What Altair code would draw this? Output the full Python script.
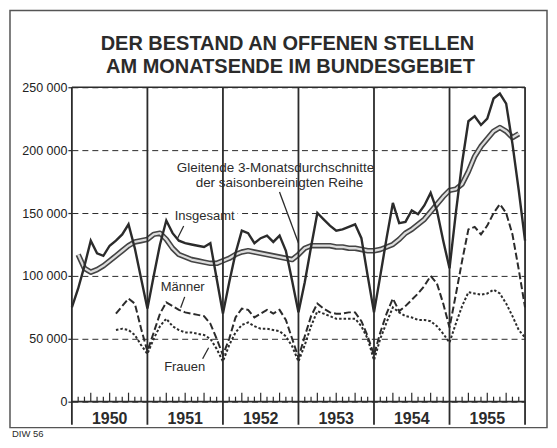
import altair as alt
import pandas as pd

# ---------------- data (month-end values) ----------------
# Insgesamt: Dec 1949 .. Dec 1955
insgesamt = [75000,
    90000, 108000, 128000, 118000, 116000, 124000, 128000, 133000, 141000, 122000, 98000, 74000,
    100000, 125000, 144000, 134000, 128000, 126000, 125000, 124000, 123000, 126000, 98000, 70000,
    95000, 118000, 136000, 134000, 126000, 130000, 132000, 127000, 132000, 120000, 96000, 71000,
    95000, 123000, 150000, 145000, 140000, 136000, 137000, 139000, 141000, 130000, 100000, 71000,
    100000, 130000, 158000, 142000, 143000, 152000, 149000, 156000, 166000, 152000, 128000, 106000,
    150000, 190000, 223000, 227000, 220000, 225000, 241000, 245000, 237000, 205000, 168000, 128000]

# Männer / Frauen: Jul 1950 .. Dec 1955
maenner = [70000, 76000, 82000, 78000, 58000, 40000,
    55000, 70000, 79000, 76000, 73000, 71000, 70000, 69000, 68000, 62000, 50000, 37000,
    50000, 67000, 74000, 73000, 67000, 70000, 73000, 70000, 73000, 65000, 50000, 35000,
    52000, 68000, 78000, 74000, 71000, 70000, 70000, 71000, 71000, 64000, 52000, 37000,
    55000, 70000, 82000, 72000, 76000, 81000, 86000, 92000, 100000, 94000, 78000, 59000,
    85000, 112000, 137000, 139000, 133000, 140000, 150000, 157000, 150000, 133000, 105000, 75000]

frauen = [57000, 58000, 57000, 53000, 45000, 38000,
    50000, 60000, 66000, 60000, 57000, 55000, 55000, 54000, 53000, 50000, 42000, 32000,
    45000, 55000, 61000, 63000, 60000, 58000, 58000, 57000, 56000, 52000, 44000, 32000,
    45000, 60000, 72000, 70000, 68000, 66000, 66000, 66000, 66000, 60000, 50000, 33000,
    50000, 63000, 75000, 71000, 68000, 67000, 65000, 65000, 64000, 60000, 54000, 47000,
    62000, 76000, 87000, 86000, 85000, 86000, 89000, 86000, 78000, 68000, 57000, 51000]

# Gleitende 3-Monatsdurchschnitte der saisonbereinigten Reihe: Jan 1950 .. Nov 1955
gleitend = [117000, 106000, 103000, 105000, 108000, 112000, 116000, 120000, 124000, 127000, 128000, 129000,
    133000, 134000, 129000, 122000, 117000, 115000, 113000, 112000, 111000, 110000, 110000, 112000,
    114000, 117000, 119000, 120000, 119000, 118000, 117000, 116000, 115000, 114000, 113000, 117000,
    122000, 124000, 124000, 124000, 124000, 123000, 123000, 122000, 122000, 121000, 120000, 120000,
    121000, 123000, 125000, 129000, 134000, 137000, 141000, 145000, 151000, 157000, 163000, 168000,
    169000, 173000, 183000, 195000, 203000, 209000, 215000, 218000, 215000, 210000, 213000]

years = [1950, 1951, 1952, 1953, 1954, 1955]
y_ticks = [0, 50000, 100000, 150000, 200000, 250000]

title_lines = ["DER BESTAND AN OFFENEN STELLEN", "AM MONATSENDE IM BUNDESGEBIET"]
ma_label = ["Gleitende 3-Monatsdurchschnitte", "der saisonbereinigten Reihe"]

# ---------------- layout ----------------
W, H = 454, 315
OX, OY = 72, 87          # page position of plot origin
INK = "#2b2b2b"
FONT = "Liberation Sans"


def px(x):
    return x - OX


def py(y):
    return y - OY


def series(values, start_month):
    return pd.DataFrame({"t": [1950 + (start_month + i) / 12 for i in range(len(values))],
                         "v": values})


one = pd.DataFrame({"a": [0]})
xs = alt.Scale(domain=[1950, 1956], nice=False, zero=False)
X = alt.X("t:Q", scale=xs, axis=None)
ys = alt.Scale(domain=[0, 250000], nice=False, zero=True)

y_axis = alt.Axis(values=y_ticks,
                  labelExpr="replace(format(datum.value, ','), ',', ' ')",
                  grid=True, gridDash=[6, 4], gridColor=INK, gridWidth=1, gridOpacity=1,
                  domain=False, ticks=True, tickSize=4, tickColor=INK, tickWidth=1.2,
                  labelFont=FONT, labelFontSize=12.5, labelColor="#222", labelPadding=1,
                  title=None)
Y = alt.Y("v:Q", scale=ys, axis=y_axis)

layers = []

# outer frame
layers.append(alt.Chart(one).mark_rect(fill="transparent", stroke="#555", strokeWidth=1.5).encode(
    x=alt.value(px(10)), x2=alt.value(px(548)), y=alt.value(py(10)), y2=alt.value(py(428))))

# white patch behind the "Insgesamt" label (interrupts the grid line)
layers.append(alt.Chart(one).mark_rect(fill="white").encode(
    x=alt.value(px(172)), x2=alt.value(px(238)), y=alt.value(py(209)), y2=alt.value(py(223))))

# moving average (double line)
ma_df = series(gleitend, 1)
layers.append(alt.Chart(ma_df).mark_line(color="#444", strokeWidth=5.5, strokeJoin="round").encode(
    x=X, y=Y))
layers.append(alt.Chart(ma_df).mark_line(color="#dcdcdc", strokeWidth=2.3, strokeJoin="round").encode(
    x=X, y=Y))

# Insgesamt
layers.append(alt.Chart(series(insgesamt, 0)).mark_line(color=INK, strokeWidth=2.4).encode(
    x=X, y=Y))
# Männer
layers.append(alt.Chart(series(maenner, 7)).mark_line(color=INK, strokeWidth=2, strokeDash=[7, 3]).encode(
    x=X, y=Y))
# Frauen
layers.append(alt.Chart(series(frauen, 7)).mark_line(color=INK, strokeWidth=2, strokeDash=[2.5, 2]).encode(
    x=X, y=Y))

# top border and baseline
layers.append(alt.Chart(one).mark_rule(color=INK, strokeWidth=1.6).encode(
    x=alt.value(0), x2=alt.value(W), y=alt.value(0)))
layers.append(alt.Chart(one).mark_rule(color=INK, strokeWidth=1.6).encode(
    x=alt.value(0), x2=alt.value(W), y=alt.value(H)))

# year separators (incl. left and right borders)
sep_df = pd.DataFrame({"t": years + [1956]})
layers.append(alt.Chart(sep_df).mark_rule(color=INK, strokeWidth=1.8).encode(
    x=X, y=alt.value(0), y2=alt.value(py(425))))

# month ticks
short_t = [y + m / 12 for y in years for m in range(1, 12) if m not in (3, 6, 9)]
long_t = [y + m / 12 for y in years for m in (3, 6, 9)]
layers.append(alt.Chart(pd.DataFrame({"t": short_t})).mark_rule(color=INK, strokeWidth=1.2).encode(
    x=X, y=alt.value(H), y2=alt.value(H - 5)))
layers.append(alt.Chart(pd.DataFrame({"t": long_t})).mark_rule(color=INK, strokeWidth=1.2).encode(
    x=X, y=alt.value(H), y2=alt.value(H - 9)))

# year labels
yl_df = pd.DataFrame({"t": [y + 0.5 for y in years], "label": [str(y) for y in years]})
layers.append(alt.Chart(yl_df).mark_text(font=FONT, fontSize=16, fontWeight="bold", color=INK,
                                         baseline="middle").encode(
    x=X, y=alt.value(py(419)), text="label:N"))


def text(s, x, y, size, weight="normal", align="center"):
    return alt.Chart(one).mark_text(text=s, font=FONT, fontSize=size, fontWeight=weight, color=INK,
                                    align=align, baseline="middle").encode(
        x=alt.value(px(x)), y=alt.value(py(y)))


def leader(x1, y1, x2, y2):
    return alt.Chart(one).mark_rule(color=INK, strokeWidth=1.3).encode(
        x=alt.value(px(x1)), y=alt.value(py(y1)), x2=alt.value(px(x2)), y2=alt.value(py(y2)))


# title
layers.append(text(title_lines[0], 288, 44, 20, "bold"))
layers.append(text(title_lines[1], 291, 67, 20, "bold"))

# annotations
layers.append(text(ma_label[0], 276, 168, 13.5))
layers.append(text(ma_label[1], 280, 183, 13.5))
layers.append(leader(280, 192, 299, 243))
layers.append(text("Insgesamt", 205, 216, 13))
layers.append(leader(184, 226, 178, 238))
layers.append(text("Männer", 183, 287, 13))
layers.append(leader(185, 297, 181, 308))
layers.append(text("Frauen", 185, 367, 13))
layers.append(leader(203, 359, 209, 348))
layers.append(text("DIW 56", 12, 434, 9.5, align="left"))

chart = alt.layer(*layers).properties(
    width=W, height=H,
    padding={"left": OX - 8, "top": OY - 8, "right": 24, "bottom": 38},
    autosize=alt.AutoSizeParams(type="none"),
    background="white",
).configure_view(stroke=None)

chart.save("out.html", embed_options={"renderer": "svg", "actions": False})
